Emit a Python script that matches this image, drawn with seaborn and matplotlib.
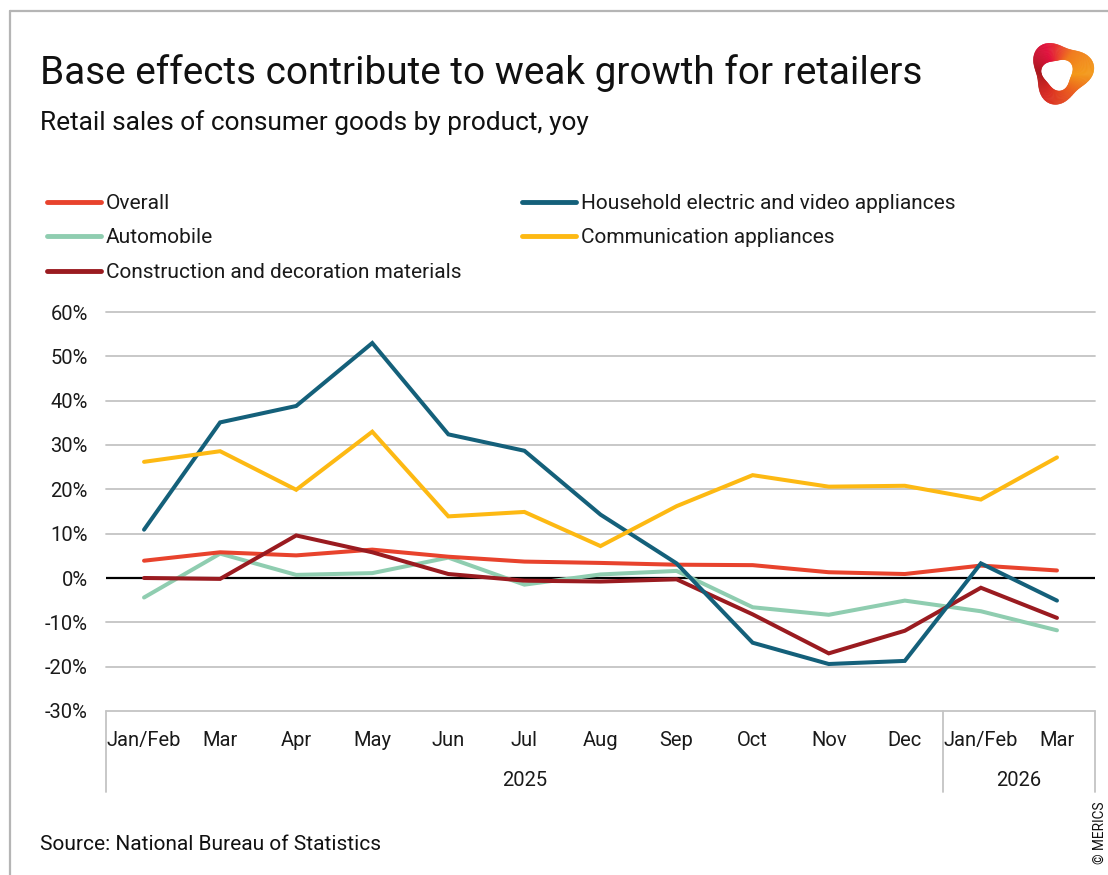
import numpy as np
import pandas as pd
import seaborn as sns
import matplotlib.pyplot as plt
import matplotlib.transforms as mtransforms
from matplotlib.lines import Line2D
from matplotlib.patches import Polygon

# ---- data: year-on-year growth of retail sales by product (%) ----
months = ["Jan/Feb", "Mar", "Apr", "May", "Jun", "Jul", "Aug", "Sep",
          "Oct", "Nov", "Dec", "Jan/Feb", "Mar"]
years = ["2025", "2026"]
year_spans = [(0, 10), (11, 12)]

overall = [3.9, 5.8, 5.1, 6.4, 4.8, 3.7, 3.4, 3.0, 2.9, 1.3, 0.9, 2.8, 1.7]
household = [10.9, 35.1, 38.8, 53.0, 32.4, 28.7, 14.3, 3.3, -14.6, -19.4, -18.7, 3.3, -5.1]
automobile = [-4.4, 5.5, 0.7, 1.1, 4.6, -1.5, 0.8, 1.6, -6.6, -8.3, -5.1, -7.5, -11.8]
communication = [26.2, 28.6, 19.9, 33.0, 13.9, 14.9, 7.2, 16.2, 23.2, 20.6, 20.8, 17.7, 27.2]
construction = [0.0, -0.2, 9.6, 5.8, 0.9, -0.6, -0.8, -0.3, -8.2, -17.0, -11.9, -2.2, -9.0]

series = {
    "Overall": overall,
    "Household electric and video appliances": household,
    "Automobile": automobile,
    "Communication appliances": communication,
    "Construction and decoration materials": construction,
}
palette = {
    "Overall": "#e8432d",
    "Household electric and video appliances": "#14607a",
    "Automobile": "#8fcdb0",
    "Communication appliances": "#fdb913",
    "Construction and decoration materials": "#9a1b20",
}
draw_order = ["Automobile", "Overall", "Construction and decoration materials",
              "Household electric and video appliances", "Communication appliances"]

df = pd.concat(
    [pd.DataFrame({"pos": np.arange(len(months)), "value": vals, "series": name})
     for name, vals in series.items()],
    ignore_index=True,
)

# ---- figure ----
sns.set_style("white")
plt.rcParams["font.family"] = ["Roboto", "DejaVu Sans"]
W, H = 1108, 875
fig = plt.figure(figsize=(W / 100, H / 100), dpi=100)
ax = fig.add_axes([106 / W, 164 / H, 989 / W, 399 / H])

LW = 2.9
sns.lineplot(data=df, x="pos", y="value", hue="series", hue_order=draw_order,
             palette=palette, linewidth=LW, legend=False, ax=ax,
             solid_capstyle="round", solid_joinstyle="miter")

ax.set_xlim(-0.5, len(months) - 0.5)
ax.set_ylim(-30, 60)
yticks = list(range(-30, 61, 10))
ax.set_yticks(yticks, [f"{v}%" for v in yticks])
ax.set_xticks(range(len(months)), months)
ax.tick_params(axis="y", length=0, pad=13, labelsize=14.5, labelcolor="#1a1a1a")
ax.tick_params(axis="x", length=0, pad=14.5, labelsize=14.5, labelcolor="#1a1a1a")
ax.set_xlabel("")
ax.set_ylabel("")
for s in ax.spines.values():
    s.set_visible(False)

grid_c = "#c4c4c4"
for v in yticks:
    if v != 0:
        ax.axhline(v, color=grid_c, lw=1.3, zorder=0.5, clip_on=False)
ax.axhline(0, color="black", lw=1.6, zorder=1.5)

# category box below the axis, with year labels
trans = mtransforms.blended_transform_factory(ax.transData, ax.transAxes)
box_bottom = -(792 - 711) / 399
for x in (-0.5, 10.5, len(months) - 0.5):
    ax.plot([x, x], [0, box_bottom], color=grid_c, lw=1.3,
            transform=trans, clip_on=False)
for label, (a, b) in zip(years, year_spans):
    ax.text((a + b) / 2, -(780 - 711) / 399, label, transform=trans,
            ha="center", va="center", fontsize=14.5, color="#1a1a1a")

# ---- legend in two columns ----
def handle(name):
    return Line2D([], [], color=palette[name], lw=LW + 0.6, solid_capstyle="round")

col1 = ["Overall", "Automobile", "Construction and decoration materials"]
col2 = ["Household electric and video appliances", "Communication appliances"]
leg_kw = dict(frameon=False, fontsize=15, handlelength=2.6, handletextpad=0.22,
              labelspacing=0.74, borderaxespad=0, borderpad=0,
              loc="upper left", labelcolor="#1a1a1a")
fig.legend([handle(n) for n in col1], col1,
           bbox_to_anchor=(47 / W, 1 - 194 / H), **leg_kw)
fig.legend([handle(n) for n in col2], col2,
           bbox_to_anchor=(522 / W, 1 - 194 / H), **leg_kw)

# ---- titles and notes ----
fig.text(40 / W, 1 - 73 / H, "Base effects contribute to weak growth for retailers",
         fontsize=27.9, va="center", ha="left", color="#111111")
fig.text(40 / W, 1 - 123 / H, "Retail sales of consumer goods by product, yoy",
         fontsize=18.9, va="center", ha="left", color="#111111")
fig.text(40 / W, 1 - 845 / H, "Source: National Bureau of Statistics",
         fontsize=15, va="center", ha="left", color="#111111")
fig.text(1100 / W, 1 - 833 / H, "© MERICS", rotation=90, fontsize=9.8,
         va="center", ha="center", color="#111111")

# frame lines along top and left edge
frame_c = "#b5b5b5"
fig.add_artist(Line2D([10 / W, 1], [1 - 11 / H, 1 - 11 / H], color=frame_c, lw=1.6))
fig.add_artist(Line2D([10 / W, 10 / W], [0, 1 - 11 / H], color=frame_c, lw=1.6))

# ---- logo: twisted ring ----
lax = fig.add_axes([1026 / W, 1 - 107 / H, 70 / W, 70 / H])
lax.set_xlim(-1.05, 1.05)
lax.set_ylim(-1.05, 1.05)
lax.set_aspect("equal")
lax.axis("off")
th = np.linspace(0, 2 * np.pi, 181)
r_out = 0.86 * (1 + 0.16 * np.cos(3 * (th - np.radians(12))))
r_in = 0.46 * (1 + 0.12 * np.cos(3 * (th - np.radians(40))))
ox, oy = r_out * np.cos(th), r_out * np.sin(th)
ix, iy = r_in * np.cos(th) - 0.10, r_in * np.sin(th) - 0.06
stops_deg = [0, 60, 120, 180, 240, 300, 360]
stops_col = ["#f39a1a", "#f07a1c", "#e2103d", "#a8171d", "#d82a22", "#ea5a1d", "#f39a1a"]
stops_rgb = np.array([plt.matplotlib.colors.to_rgb(c) for c in stops_col])
for i in range(len(th) - 1):
    mid = np.degrees((th[i] + th[i + 1]) / 2)
    col = [np.interp(mid, stops_deg, stops_rgb[:, k]) for k in range(3)]
    quad = [(ox[i], oy[i]), (ox[i + 1], oy[i + 1]), (ix[i + 1], iy[i + 1]), (ix[i], iy[i])]
    lax.add_patch(Polygon(quad, closed=True, facecolor=col, edgecolor=col, lw=0.4))

fig.savefig("out.png", dpi=100, facecolor="white")
